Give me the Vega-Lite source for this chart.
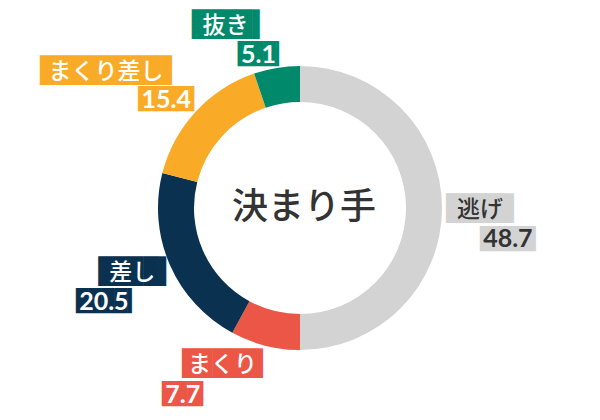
{
  "$schema": "https://vega.github.io/schema/vega-lite/v6.json",
  "width": 600,
  "height": 420,
  "autosize": {"type": "fit", "contains": "padding"},
  "padding": {"top": 0, "left": 0, "right": 0, "bottom": 4},
  "background": "white",
  "config": {"view": {"stroke": null}},
  "params": [
    {
      "name": "lab",
      "value": {
        "逃げ": {"nx": -6, "ny": -14, "vx": 28, "vy": 18},
        "まくり": {"nx": -80.6, "ny": -6.3, "vx": -100.6, "vy": 26.4},
        "差し": {"nx": -62.5, "ny": -12.3, "vx": -84.8, "vy": 19.3},
        "まくり差し": {"nx": -148.2, "ny": -49, "vx": -49.9, "vy": -18.3},
        "抜き": {"nx": -83.4, "ny": -48, "vx": -37.4, "vy": -16.3}
      }
    }
  ],
  "layer": [
    {
      "data": {"values": [{"label": "決まり手"}]},
      "mark": {
        "type": "text",
        "font": "Noto Sans CJK JP",
        "fontSize": 36,
        "fontWeight": 500,
        "color": "#333333",
        "baseline": "alphabetic",
        "dx": 4,
        "dy": 11
      },
      "encoding": {"text": {"field": "label", "type": "nominal"}}
    },
    {
      "data": {
        "values": [
          {"name": "逃げ", "value": 48.7},
          {"name": "まくり", "value": 7.7},
          {"name": "差し", "value": 20.5},
          {"name": "まくり差し", "value": 15.4},
          {"name": "抜き", "value": 5.1}
        ]
      },
      "transform": [
        {"window": [{"op": "row_number", "as": "idx"}]},
        {"calculate": "length(datum.name) == 2 ? '████▌' : length(datum.name) == 3 ? '█████▍' : '████████▊'", "as": "nbox"},
        {"calculate": "length(format(datum.value, '.1f')) == 4 ? '████▍' : '███▎'", "as": "vbox"}
      ],
      "encoding": {
        "theta": {"field": "value", "type": "quantitative", "stack": true},
        "order": {"field": "idx", "type": "quantitative"},
        "color": {
          "field": "name",
          "type": "nominal",
          "legend": null,
          "scale": {
            "domain": ["逃げ", "まくり", "差し", "まくり差し", "抜き"],
            "range": ["#d3d3d3", "#eb5646", "#0b3150", "#f9ab28", "#00896b"]
          }
        }
      },
      "layer": [
        {
          "mark": {"type": "arc", "outerRadius": 142, "innerRadius": 106}
        },
        {
          "mark": {
            "type": "text",
            "radius": 152,
            "font": "DejaVu Sans Mono",
            "fontSize": 25,
            "align": "left",
            "baseline": "alphabetic",
            "dx": {"expr": "lab[datum.name].nx"},
            "dy": {"expr": "lab[datum.name].ny + 23.2"}
          },
          "encoding": {"text": {"field": "nbox", "type": "nominal"}}
        },
        {
          "mark": {
            "type": "text",
            "radius": 152,
            "font": "DejaVu Sans Mono",
            "fontSize": 21.2,
            "align": "left",
            "baseline": "alphabetic",
            "dx": {"expr": "lab[datum.name].vx"},
            "dy": {"expr": "lab[datum.name].vy + 19.7"}
          },
          "encoding": {"text": {"field": "vbox", "type": "nominal"}}
        },
        {
          "mark": {
            "type": "text",
            "radius": 152,
            "font": "Noto Sans CJK JP",
            "fontSize": 23,
            "fontWeight": 500,
            "align": "center",
            "baseline": "alphabetic",
            "dx": {"expr": "lab[datum.name].nx + (length(datum.name) == 2 ? 33.9 : length(datum.name) == 3 ? 40.5 : 65.9)"},
            "dy": {"expr": "lab[datum.name].ny + 23.2"}
          },
          "encoding": {
            "text": {"field": "name", "type": "nominal"},
            "color": {"condition": {"test": "datum.name === '逃げ'", "value": "#333333"}, "value": "#ffffff"}
          }
        },
        {
          "mark": {
            "type": "text",
            "radius": 152,
            "font": "Lato",
            "fontWeight": "bold",
            "fontSize": 25,
            "align": "center",
            "baseline": "alphabetic",
            "dx": {"expr": "lab[datum.name].vx + (length(format(datum.value, '.1f')) == 4 ? 27.9 : 20.8)"},
            "dy": {"expr": "lab[datum.name].vy + 21.3"}
          },
          "encoding": {
            "text": {"field": "value", "type": "quantitative", "format": ".1f"},
            "color": {"condition": {"test": "datum.name === '逃げ'", "value": "#333333"}, "value": "#ffffff"}
          }
        }
      ]
    }
  ]
}
